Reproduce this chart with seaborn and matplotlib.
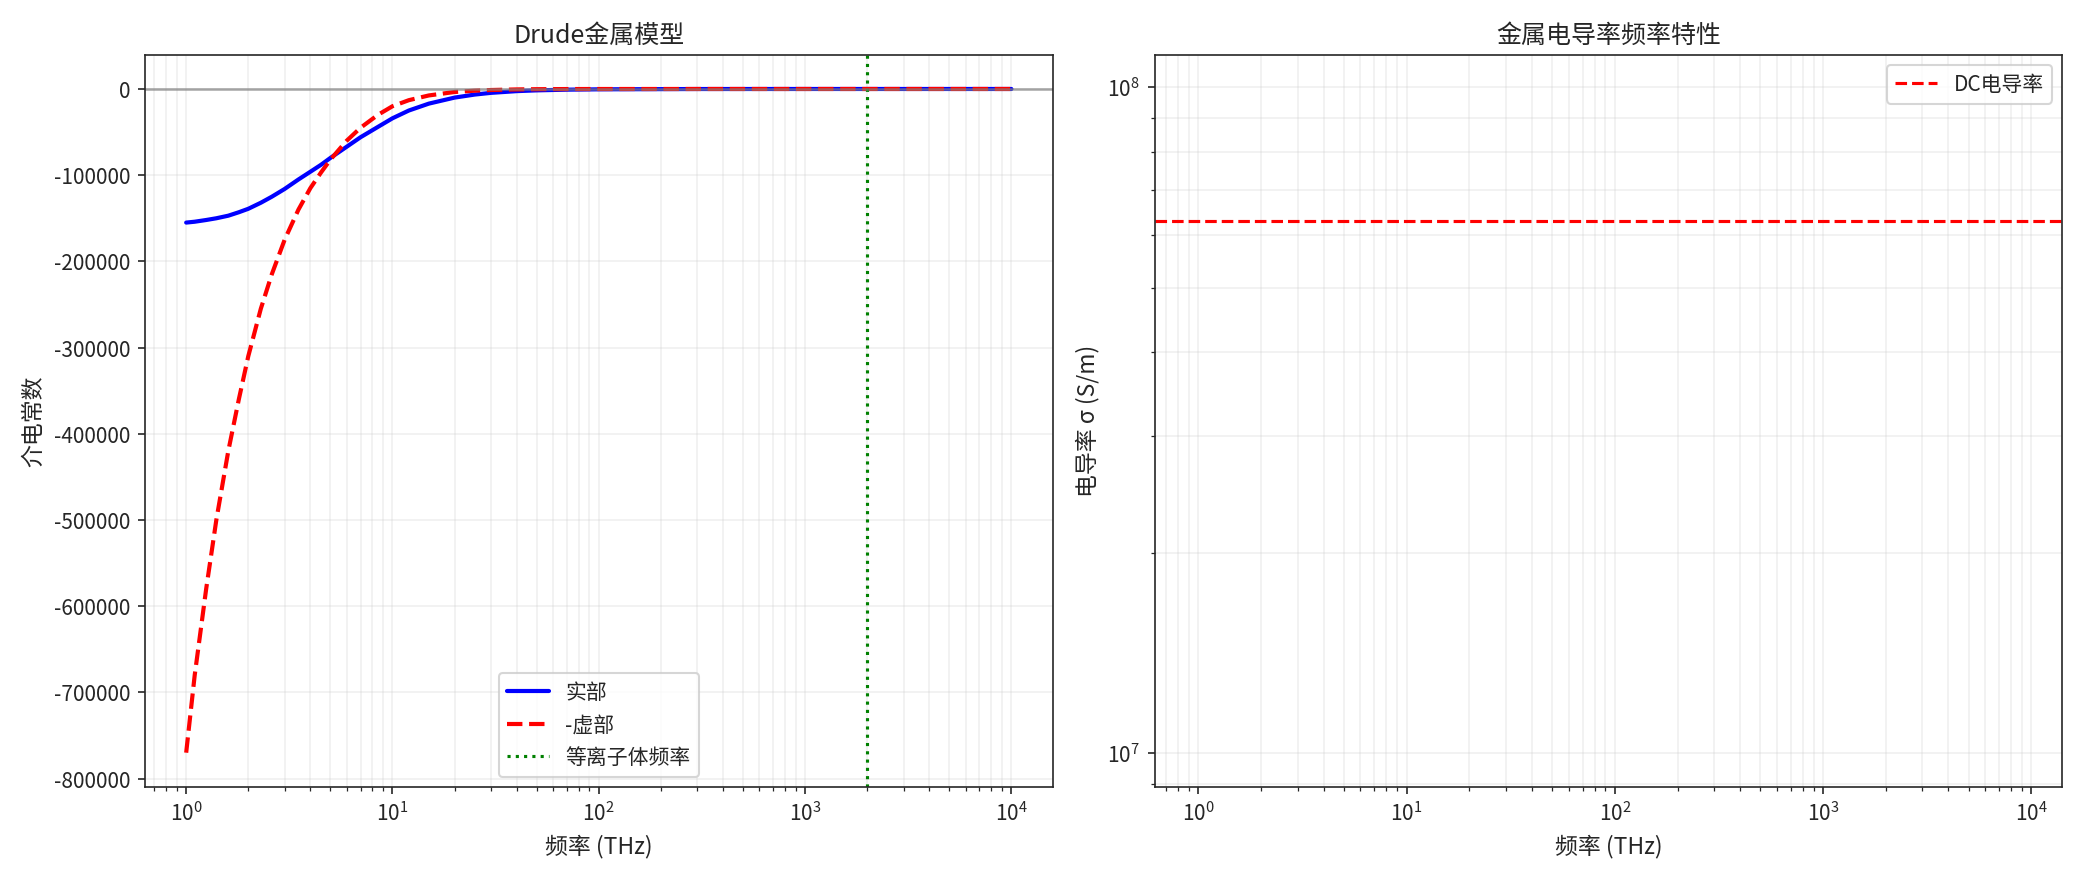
import numpy as np
import pandas as pd
import matplotlib
matplotlib.use("Agg")
import matplotlib.pyplot as plt
import seaborn as sns
from matplotlib.ticker import StrMethodFormatter

sns.set_style("ticks")
plt.rcParams['font.family'] = ['Noto Sans CJK SC', 'DejaVu Sans']
plt.rcParams['axes.unicode_minus'] = False

# values
freq = [1, 1.1, 1.25, 1.4, 1.6, 1.8, 2, 2.3, 2.6, 3, 3.5, 4, 4.5, 5, 6, 7, 8.5,
        10, 12, 15, 20, 25, 30, 40, 50, 70, 100, 300, 1000, 3000, 10000]
eps_real = [-155000, -154000, -152000, -150000, -147000, -143000, -139000, -132000,
            -125000, -116000, -105000, -96000, -88000, -80000, -67000, -56000, -44000,
            -34000, -25000, -17000, -10000, -6500, -4500, -2500, -1600, -800, -400,
            -50, 0, 0, 0]
eps_neg_imag = [-770000, -680000, -580000, -500000, -420000, -360000, -310000, -255000,
                -215000, -175000, -140000, -115000, -97000, -82000, -60000, -45000,
                -30000, -20000, -13000, -7500, -3500, -2000, -1200, -500, -250, -80,
                -30, 0, 0, 0, 0]
plasma_freq = 2000
sigma_dc = 6.3e7

df = pd.DataFrame({"f": freq, "re": eps_real, "im": eps_neg_imag})

fig, (ax1, ax2) = plt.subplots(1, 2, figsize=(13.9, 5.87), dpi=150)

sns.lineplot(data=df, x="f", y="re", ax=ax1, color="blue", lw=2, label="实部")
sns.lineplot(data=df, x="f", y="im", ax=ax1, color="red", lw=2, ls="--", label="-虚部")
ax1.axvline(plasma_freq, color="green", ls=":", lw=1.5, label="等离子体频率")
ax1.axhline(0, color="gray", alpha=0.7, lw=1.2)
ax1.set_xscale("log")
ax1.set_ylim(-810000, 40000)
ax1.yaxis.set_major_formatter(StrMethodFormatter("{x:.0f}"))
ax1.set_xlabel("频率 (THz)", fontsize=11)
ax1.set_ylabel("介电常数", fontsize=11)
ax1.set_title("Drude金属模型", fontsize=12)
ax1.grid(True, which="both", alpha=0.3)
ax1.legend(loc="lower center")

ax2.axhline(sigma_dc, color="red", ls="--", lw=1.5, label="DC电导率")
ax2.set_xscale("log")
ax2.set_yscale("log")
ax2.set_xlim(10 ** -0.21, 10 ** 4.15)
ax2.set_ylim(8.9e6, 1.12e8)
ax2.set_xlabel("频率 (THz)", fontsize=11)
ax2.set_ylabel("电导率 σ (S/m)", fontsize=11)
ax2.set_title("金属电导率频率特性", fontsize=12)
ax2.grid(True, which="both", alpha=0.3)
ax2.legend(loc="upper right")

plt.tight_layout()
plt.savefig("out.png")
